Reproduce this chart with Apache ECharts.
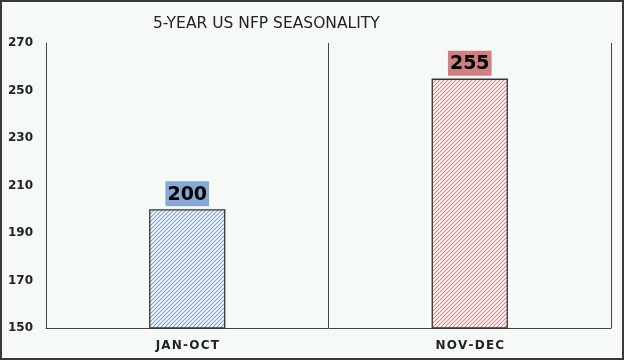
<!DOCTYPE html>
<html><head><meta charset="utf-8">
<script src="https://cdn.jsdelivr.net/npm/echarts@6/dist/echarts.min.js"></script>
<style>html,body{margin:0;padding:0;background:#f5faf7}#c{width:624px;height:360px;box-sizing:border-box;border:2px solid #3a3a3a}</style>
</head><body><div id="c"></div>
<script>
const categories = ['JAN-OCT', 'NOV-DEC'];
const values = [200, 255];
const yTicks = [150, 170, 190, 210, 230, 250, 270];
const title = '5-YEAR US NFP SEASONALITY';

function hatch(color) {
  const s = 4;
  const cv = document.createElement('canvas');
  cv.width = s; cv.height = s;
  const ctx = cv.getContext('2d');
  ctx.fillStyle = '#ffffff';
  ctx.fillRect(0, 0, s, s);
  ctx.strokeStyle = color;
  ctx.lineWidth = 1.2;
  ctx.beginPath();
  ctx.moveTo(0, s); ctx.lineTo(s, 0);
  ctx.moveTo(-1, 1); ctx.lineTo(1, -1);
  ctx.moveTo(s - 1, s + 1); ctx.lineTo(s + 1, s - 1);
  ctx.stroke();
  return { image: cv, repeat: 'repeat' };
}
const fills = [hatch('#7d9fd0'), hatch('#d88a8a')];
const labelBg = ['#86a8d2', '#d08080'];

const chart = echarts.init(document.getElementById('c'));
chart.setOption({
  backgroundColor: '#f5faf7',
  animation: false,
  title: {
    text: title, left: 146, top: 9,
    textStyle: { fontFamily: 'DejaVu Sans', fontWeight: 'normal', fontSize: 15.5, color: '#222' }
  },
  grid: { left: 44, right: 11, top: 41, bottom: 30 },
  xAxis: {
    type: 'category', data: categories,
    axisLine: { lineStyle: { color: '#444', width: 1 } },
    axisTick: { show: false },
    splitLine: { show: true, lineStyle: { color: '#444', width: 1 } },
    axisLabel: {
      margin: 12, color: '#222', fontFamily: 'DejaVu Sans', fontWeight: 'bold', fontSize: 12,
      formatter: v => v.split('').join('\u200A')
    }
  },
  yAxis: {
    type: 'value', min: yTicks[0], max: yTicks[yTicks.length - 1], interval: 20,
    axisLine: { show: true, lineStyle: { color: '#444', width: 1 } },
    axisTick: { show: false },
    splitLine: { show: false },
    axisLabel: { align: 'left', margin: 38, color: '#222', fontFamily: 'DejaVu Sans', fontWeight: 'bold', fontSize: 12 }
  },
  series: [{
    type: 'bar', barWidth: '27%',
    data: values.map((v, i) => ({
      value: v,
      itemStyle: { color: fills[i], borderColor: '#333', borderWidth: 1.3 },
      label: { backgroundColor: labelBg[i] }
    })),
    label: {
      show: true, position: 'top', distance: 3,
      fontFamily: 'DejaVu Sans', fontWeight: 'bold', fontSize: 19, color: '#000',
      padding: [4, 2, 2, 2]
    }
  }]
});
</script></body></html>
